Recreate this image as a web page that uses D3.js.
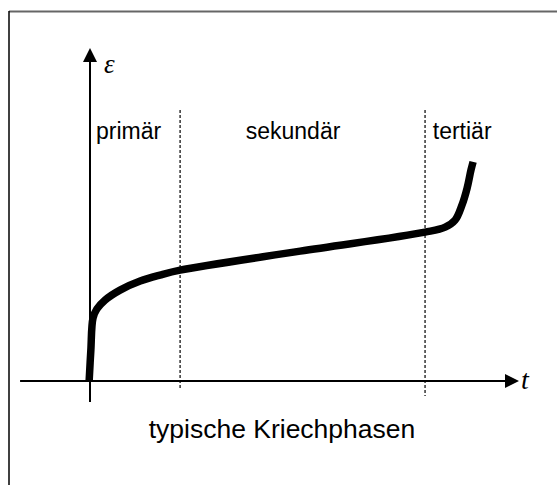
<!DOCTYPE html>
<html>
<head>
<meta charset="utf-8">
<script src="https://cdn.jsdelivr.net/npm/d3@7"></script>
<style>
body { margin: 0; background: #fff; }
</style>
</head>
<body>
<div id="chart"></div>
<script>
let width = 557
let height = 486

// creep curve, arbitrary units (t and strain in % of axis length)
let curveT = [-0.2, 0.2, 0.7, 1.6, 3.5, 7.0, 11.7, 16.3, 21.0, 49.0, 78.1, 82.8, 85.1, 86.7, 87.9, 88.8, 89.3]
let curveEps = [0, 9.3, 18.9, 21.6, 24.3, 27.3, 30.0, 31.8, 33.3, 39.0, 44.7, 46.2, 48.3, 52.8, 57.9, 63.3, 65.8]

// phase boundaries and labels
let phaseBounds = [21.0, 78.1]
let phaseNames = ['primär', 'sekundär', 'tertiär']
let phaseLabelT = [1.4, 36.3, 79.9]

let xLabel = 't'
let yLabel = 'ε'
let caption = 'typische Kriechphasen'

let x = d3.scaleLinear().domain([0, 100]).range([90, 519])
let y = d3.scaleLinear().domain([0, 100]).range([381, 48])

const svg = d3.select('#chart')
	.append('svg')
	.attr('width', width)
	.attr('height', height)

// frame (top and left only)
svg.append('line')
	.attr('x1', 9).attr('x2', width)
	.attr('y1', 11.5).attr('y2', 11.5)
	.attr('stroke', '#666').attr('stroke-width', 2)
svg.append('line')
	.attr('x1', 9).attr('x2', 9)
	.attr('y1', 11).attr('y2', 485)
	.attr('stroke', '#000').attr('stroke-width', 1.5)

// phase separators
svg.selectAll('.sep')
	.data(phaseBounds)
	.enter()
	.append('line')
	.attr('x1', d => x(d)).attr('x2', d => x(d))
	.attr('y1', 110).attr('y2', (d, i) => i == 0 ? 388 : 396)
	.attr('stroke', '#000')
	.attr('stroke-width', 1.2)
	.attr('stroke-dasharray', '3,2')

// axes
svg.append('line')
	.attr('x1', x(-16.3)).attr('x2', x(100) - 12)
	.attr('y1', y(0)).attr('y2', y(0))
	.attr('stroke', '#000').attr('stroke-width', 2)
svg.append('line')
	.attr('x1', x(0)).attr('x2', x(0))
	.attr('y1', y(-6.3)).attr('y2', y(100) + 12)
	.attr('stroke', '#000').attr('stroke-width', 2)

svg.append('path')
	.attr('d', `M${x(100)},${y(0)} L${x(100) - 14},${y(0) - 7} L${x(100) - 14},${y(0) + 7} Z`)
	.attr('fill', '#000')
svg.append('path')
	.attr('d', `M${x(0)},${y(100)} L${x(0) - 7},${y(100) + 14} L${x(0) + 7},${y(100) + 14} Z`)
	.attr('fill', '#000')

// creep curve
let pts = curveT.map((t, i) => [t, curveEps[i]])
let line = d3.line()
	.x(d => x(d[0]))
	.y(d => y(d[1]))
	.curve(d3.curveCatmullRom.alpha(0.5))

svg.append('path')
	.datum(pts)
	.attr('d', line)
	.attr('fill', 'none')
	.attr('stroke', '#000')
	.attr('stroke-width', 7.5)

// labels
svg.selectAll('.phase')
	.data(phaseNames)
	.enter()
	.append('text')
	.attr('x', (d, i) => x(phaseLabelT[i]))
	.attr('y', 139)
	.attr('font-family', 'Liberation Sans, Arial, sans-serif')
	.attr('font-size', 23)
	.attr('fill', '#000')
	.text(d => d)

svg.append('text')
	.attr('x', 282)
	.attr('y', 438)
	.attr('text-anchor', 'middle')
	.attr('font-family', 'Liberation Sans, Arial, sans-serif')
	.attr('font-size', 26.5)
	.attr('fill', '#000')
	.text(caption)

svg.append('text')
	.attr('x', 104)
	.attr('y', 73)
	.attr('font-family', 'Liberation Serif, Times New Roman, serif')
	.attr('font-style', 'italic')
	.attr('font-size', 27)
	.text(yLabel)

svg.append('text')
	.attr('x', 521)
	.attr('y', 389)
	.attr('font-family', 'Liberation Serif, Times New Roman, serif')
	.attr('font-style', 'italic')
	.attr('font-size', 28)
	.text(xLabel)
</script>
</body>
</html>
